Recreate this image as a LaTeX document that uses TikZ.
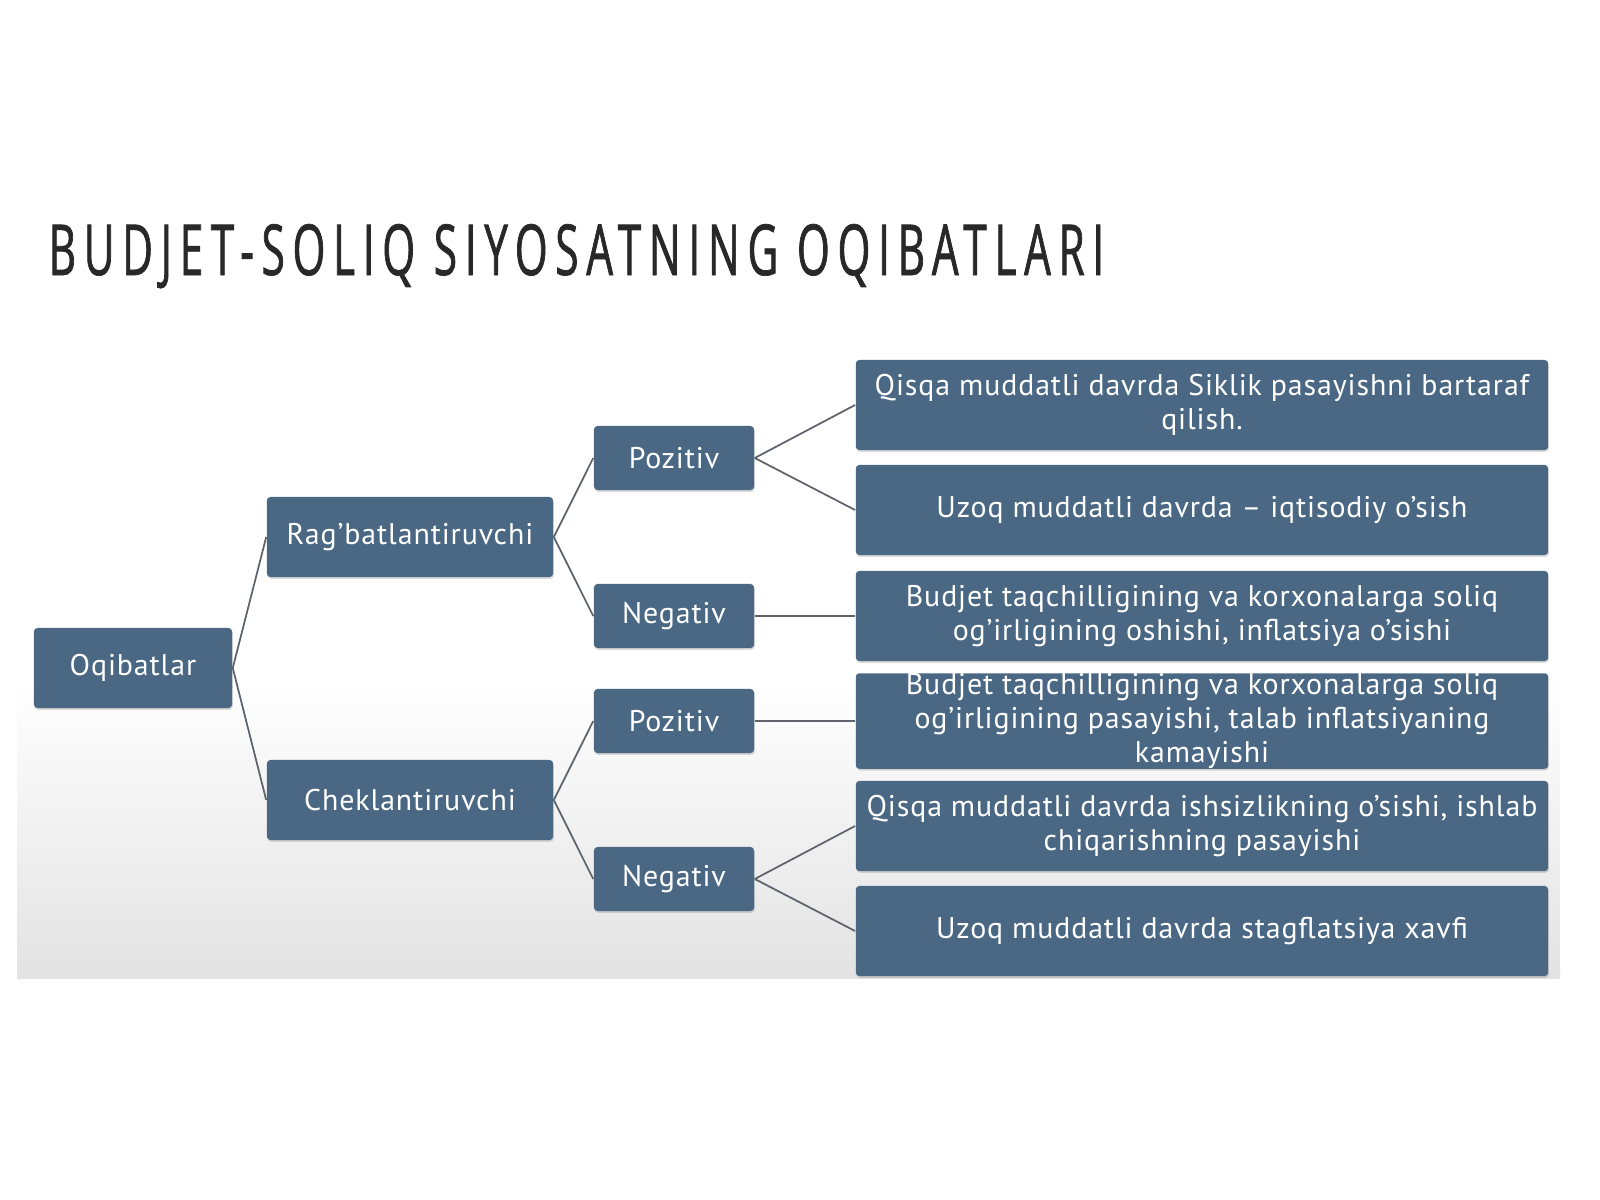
\documentclass[tikz,border=0pt]{standalone}
\usepackage{fontspec}
\setmainfont[LetterSpace=3]{PT Sans}
\newfontfamily\titlefont[FakeStretch=0.6,LetterSpace=11,FakeBold=1]{Open Sans}
\usetikzlibrary{shadows}
\definecolor{boxblue}{RGB}{74,104,131}
\definecolor{linegray}{RGB}{95,100,108}
\definecolor{titlegray}{RGB}{40,40,40}
\tikzset{>=latex}

\begin{document}
\begin{tikzpicture}[x=0.01cm,y=-0.01cm,
	mainnode/.style={rectangle,rounded corners=1pt,fill=boxblue,text=white,align=center,inner sep=0pt,
		font=\fontsize{8.5}{9.7}\selectfont,drop shadow={opacity=0.3,shadow xshift=0.2pt,shadow yshift=-0.5pt}},
	smallnode/.style={mainnode,minimum width=1.6cm,minimum height=0.64cm},
	leafnode/.style={mainnode,minimum width=6.92cm,minimum height=0.9cm},
	link/.style={draw=linegray,line width=0.5pt}]

	\useasboundingbox (0,0) rectangle (1600,1200);
	\shade[top color=white,bottom color=black!11] (17,680) rectangle (1560,978);

	\node[anchor=base west,inner sep=0pt,text=titlegray,font=\titlefont\fontsize{20}{24}\selectfont] (title) at (48,275) {BUDJET-SOLIQ SIYOSATNING OQIBATLARI};

	\node[mainnode,minimum width=1.98cm,minimum height=0.8cm] (oq) at (133,668) {Oqibatlar};
	\node[mainnode,minimum width=2.86cm,minimum height=0.8cm] (rag) at (410,537) {Rag'batlantiruvchi};
	\node[mainnode,minimum width=2.86cm,minimum height=0.8cm] (chek) at (410,800) {Cheklantiruvchi};

	\node[smallnode] (poz1) at (674,458) {Pozitiv};
	\node[smallnode] (neg1) at (674,616) {Negativ};
	\node[smallnode] (poz2) at (674,721) {Pozitiv};
	\node[smallnode] (neg2) at (674,879) {Negativ};

	\node[leafnode] (r1) at (1202,405) {Qisqa muddatli davrda Siklik pasayishni bartaraf\\qilish.};
	\node[leafnode] (r2) at (1202,510) {Uzoq muddatli davrda -- iqtisodiy o'sish};
	\node[leafnode] (r3) at (1202,616) {Budjet taqchilligining va korxonalarga soliq\\og'irligining oshishi, inflatsiya o'sishi};
	\node[leafnode] (r4) at (1202,721) {Budjet taqchilligining va korxonalarga soliq\\og'irligining pasayishi, talab inflatsiyaning\\kamayishi};
	\node[leafnode] (r5) at (1202,826) {Qisqa muddatli davrda ishsizlikning o'sishi, ishlab\\chiqarishning pasayishi};
	\node[leafnode] (r6) at (1202,931) {Uzoq muddatli davrda stagflatsiya xavfi};

	\path[link] (oq.east) -- (rag.west)
		(oq.east) -- (chek.west)
		(rag.east) -- (poz1.west)
		(rag.east) -- (neg1.west)
		(chek.east) -- (poz2.west)
		(chek.east) -- (neg2.west)
		(poz1.east) -- (r1.west)
		(poz1.east) -- (r2.west)
		(neg1.east) -- (r3.west)
		(poz2.east) -- (r4.west)
		(neg2.east) -- (r5.west)
		(neg2.east) -- (r6.west);
\end{tikzpicture}
\end{document}
